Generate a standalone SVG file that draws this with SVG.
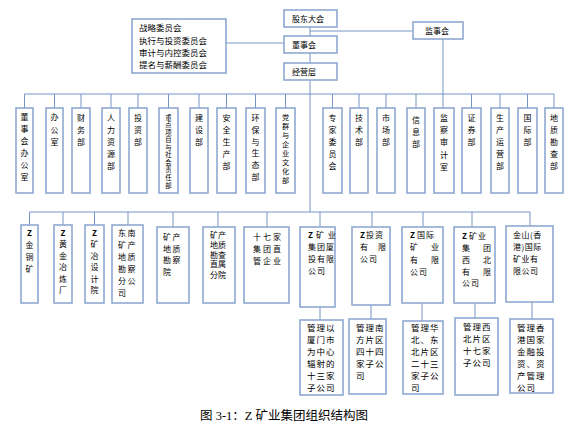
<svg xmlns="http://www.w3.org/2000/svg" width="583" height="433" viewBox="0 0 583 433">
<style>
.b{fill:#fff;stroke:#8FA9D2;stroke-width:1.6}
.c{stroke:#7594C4;stroke-width:1;fill:none}
text{font-family:"Noto Sans CJK SC","Liberation Sans",sans-serif;fill:#000}
.t{font-size:8px}
.v{font-size:8px;text-anchor:middle}
.s{font-size:6.4px;text-anchor:middle}
.p{font-size:7.2px;text-anchor:middle}
.h{font-size:8px}
.m{font-size:8.5px;letter-spacing:1px}
.cap{font-family:"Liberation Serif","Noto Sans CJK SC",serif;font-size:12.5px;fill:#000}
</style>
<rect width="583" height="433" fill="#fff"/>
<g id="connectors">
<path class="c" d="M310,27V36M310,53V63M310,80V212M310,31H413M226,43H284M443,39V108"/>
<path class="c" d="M24.5,94H554M24.5,94V108M54.5,94V108M81,94V108M111,94V108M138,94V108M168.5,94V108M199,94V108M226.5,94V108M255.5,94V108M285.5,94V108M332.5,94V108M359,94V108M386,94V108M416,94V108M471.5,94V108M500,94V108M527.5,94V108M554,94V108"/>
<path class="c" d="M29.5,212H530M29.5,212V225M63,212V225M94.5,212V225M128,212V225M173,212V227M218,212V227M267,212V227M320,212V227M372,212V227M423,212V227M472,212V227M530,212V226"/>
<path class="c" d="M320,307V320M371,305V319M422,303V321M475,303V318M532,302V319"/>
</g>
<g id="gudong"><rect class="b" x="284" y="10" width="53" height="17"/><text class="t" x="292" y="21.5">股东大会</text></g>
<g id="dongshihui"><rect class="b" x="284" y="36" width="53" height="17"/><text class="t" x="292" y="47.5">董事会</text></g>
<g id="jingying"><rect class="b" x="284" y="63" width="53" height="17"/><text class="t" x="292" y="74.5">经营层</text></g>
<g id="jianshihui"><rect class="b" x="413" y="22" width="50" height="17"/><text class="t" x="425" y="33.5">监事会</text></g>
<g id="weiyuanhui"><rect class="b" x="132" y="19" width="94" height="54"/><text class="m" x="139" y="30.5" style="letter-spacing:0">战略委员会</text><text class="m" x="139" y="43.5" style="letter-spacing:0">执行与投资委员会</text><text class="m" x="139" y="55.5" style="letter-spacing:0">审计与内控委员会</text><text class="m" x="139" y="67.5" style="letter-spacing:0">提名与薪酬委员会</text></g>

<g id="d1"><rect class="b" x="16" y="108" width="17" height="85"/><text class="v"><tspan x="24.5" y="120">董</tspan><tspan x="24.5" y="132">事</tspan><tspan x="24.5" y="144">会</tspan><tspan x="24.5" y="156">办</tspan><tspan x="24.5" y="168">公</tspan><tspan x="24.5" y="180">室</tspan></text></g>
<g id="d2"><rect class="b" x="46" y="108" width="17" height="85"/><text class="v"><tspan x="54.5" y="120">办</tspan><tspan x="54.5" y="132.5">公</tspan><tspan x="54.5" y="145">室</tspan></text></g>
<g id="d3"><rect class="b" x="72" y="108" width="18" height="85"/><text class="v"><tspan x="81" y="121">财</tspan><tspan x="81" y="133">务</tspan><tspan x="81" y="145">部</tspan></text></g>
<g id="d4"><rect class="b" x="102" y="108" width="18" height="85"/><text class="v"><tspan x="111" y="121">人</tspan><tspan x="111" y="133">力</tspan><tspan x="111" y="145">资</tspan><tspan x="111" y="157">源</tspan><tspan x="111" y="169">部</tspan></text></g>
<g id="d5"><rect class="b" x="129" y="108" width="18" height="85"/><text class="v"><tspan x="138" y="121">投</tspan><tspan x="138" y="133">资</tspan><tspan x="138" y="145">部</tspan></text></g>
<g id="d6"><rect class="b" x="159" y="108" width="19" height="85"/><text class="s"><tspan x="168.5" y="119.5">重</tspan><tspan x="168.5" y="127">点</tspan><tspan x="168.5" y="134.6">项</tspan><tspan x="168.5" y="142.2">目</tspan><tspan x="168.5" y="149.7">与</tspan><tspan x="168.5" y="157.3">社</tspan><tspan x="168.5" y="164.8">会</tspan><tspan x="168.5" y="172.4">责</tspan><tspan x="168.5" y="179.9">任</tspan><tspan x="168.5" y="187.5">部</tspan></text></g>
<g id="d7"><rect class="b" x="190" y="108" width="18" height="85"/><text class="v"><tspan x="199" y="121">建</tspan><tspan x="199" y="133">设</tspan><tspan x="199" y="145">部</tspan></text></g>
<g id="d8"><rect class="b" x="217" y="108" width="19" height="85"/><text class="v"><tspan x="226.5" y="121">安</tspan><tspan x="226.5" y="133">全</tspan><tspan x="226.5" y="145">生</tspan><tspan x="226.5" y="157">产</tspan><tspan x="226.5" y="169">部</tspan></text></g>
<g id="d9"><rect class="b" x="246" y="108" width="19" height="85"/><text class="v"><tspan x="255.5" y="121">环</tspan><tspan x="255.5" y="132.8">保</tspan><tspan x="255.5" y="144.6">与</tspan><tspan x="255.5" y="156.4">生</tspan><tspan x="255.5" y="168.2">态</tspan><tspan x="255.5" y="180">部</tspan></text></g>
<g id="d10"><rect class="b" x="276" y="108" width="19" height="85"/><text class="p"><tspan x="285.5" y="119.5">党</tspan><tspan x="285.5" y="128.6">群</tspan><tspan x="285.5" y="137.7">与</tspan><tspan x="285.5" y="146.8">企</tspan><tspan x="285.5" y="155.9">业</tspan><tspan x="285.5" y="165">文</tspan><tspan x="285.5" y="174.1">化</tspan><tspan x="285.5" y="183.2">部</tspan></text></g>
<g id="d11"><rect class="b" x="323" y="108" width="19" height="85"/><text class="v"><tspan x="332.5" y="121">专</tspan><tspan x="332.5" y="133">家</tspan><tspan x="332.5" y="145">委</tspan><tspan x="332.5" y="157">员</tspan><tspan x="332.5" y="169">会</tspan></text></g>
<g id="d12"><rect class="b" x="350" y="108" width="18" height="85"/><text class="v"><tspan x="359" y="121">技</tspan><tspan x="359" y="133">术</tspan><tspan x="359" y="145">部</tspan></text></g>
<g id="d13"><rect class="b" x="377" y="108" width="18" height="85"/><text class="v"><tspan x="386" y="121">市</tspan><tspan x="386" y="133">场</tspan><tspan x="386" y="145">部</tspan></text></g>
<g id="d14"><rect class="b" x="407" y="108" width="18" height="85"/><text class="v"><tspan x="416" y="123">信</tspan><tspan x="416" y="135">息</tspan><tspan x="416" y="147">部</tspan></text></g>
<g id="d15"><rect class="b" x="434" y="108" width="20" height="85"/><text class="v"><tspan x="444" y="121">监</tspan><tspan x="444" y="133.2">察</tspan><tspan x="444" y="145.4">审</tspan><tspan x="444" y="157.6">计</tspan><tspan x="444" y="169.8">室</tspan></text></g>
<g id="d16"><rect class="b" x="462" y="108" width="19" height="85"/><text class="v"><tspan x="471.5" y="121">证</tspan><tspan x="471.5" y="133">券</tspan><tspan x="471.5" y="145">部</tspan></text></g>
<g id="d17"><rect class="b" x="491" y="108" width="18" height="85"/><text class="v"><tspan x="500" y="121">生</tspan><tspan x="500" y="133">产</tspan><tspan x="500" y="145">运</tspan><tspan x="500" y="157">营</tspan><tspan x="500" y="169">部</tspan></text></g>
<g id="d18"><rect class="b" x="518" y="108" width="19" height="85"/><text class="v"><tspan x="527.5" y="121">国</tspan><tspan x="527.5" y="133">际</tspan><tspan x="527.5" y="145">部</tspan></text></g>
<g id="d19"><rect class="b" x="545" y="108" width="18" height="85"/><text class="v"><tspan x="554" y="121">地</tspan><tspan x="554" y="133">质</tspan><tspan x="554" y="145">勘</tspan><tspan x="554" y="157">查</tspan><tspan x="554" y="169">部</tspan></text></g>

<g id="c1"><rect class="b" x="21" y="225" width="17" height="78"/><text class="v"><tspan x="29.5" y="236" font-weight="bold">Z</tspan><tspan x="29.5" y="248">金</tspan><tspan x="29.5" y="260">铜</tspan><tspan x="29.5" y="272">矿</tspan></text></g>
<g id="c2"><rect class="b" x="54" y="225" width="18" height="78"/><text class="v"><tspan x="63" y="236" font-weight="bold">Z</tspan><tspan x="63" y="247.4">黄</tspan><tspan x="63" y="258.8">金</tspan><tspan x="63" y="270.2">冶</tspan><tspan x="63" y="281.6">炼</tspan><tspan x="63" y="293">厂</tspan></text></g>
<g id="c3"><rect class="b" x="85" y="225" width="19" height="78"/><text class="v"><tspan x="94.5" y="236" font-weight="bold">Z</tspan><tspan x="94.5" y="247.4">矿</tspan><tspan x="94.5" y="258.8">冶</tspan><tspan x="94.5" y="270.2">设</tspan><tspan x="94.5" y="281.6">计</tspan><tspan x="94.5" y="293">院</tspan></text></g>
<g id="c4"><rect class="b" x="112" y="225" width="31" height="78"/><text class="h" style="letter-spacing:1.5px"><tspan x="118" y="236">东南</tspan><tspan x="118" y="248">矿产</tspan><tspan x="118" y="260">地质</tspan><tspan x="118" y="272">勘察</tspan><tspan x="118" y="284">分公</tspan><tspan x="118" y="296">司</tspan></text></g>
<g id="c5"><rect class="b" x="157" y="227" width="32" height="76"/><text class="h" style="letter-spacing:1.5px"><tspan x="163" y="240">矿产</tspan><tspan x="163" y="251.5">地质</tspan><tspan x="163" y="263">勘察</tspan><tspan x="163" y="274.5">院</tspan></text></g>
<g id="c6"><rect class="b" x="203" y="227" width="32" height="76"/><text class="h"><tspan x="210" y="238">矿产</tspan><tspan x="210" y="247.8">地质</tspan><tspan x="210" y="257.6">勘查</tspan><tspan x="210" y="267.4">直属</tspan><tspan x="210" y="277.5">分院</tspan></text></g>
<g id="c7"><rect class="b" x="244" y="227" width="45" height="76"/><text class="h" style="letter-spacing:2px"><tspan x="253" y="240">十七家</tspan><tspan x="253" y="252">集团直</tspan><tspan x="253" y="263.5">管企业</tspan></text></g>
<g id="c8"><rect class="b" x="300" y="227" width="35" height="80"/><text class="h" style="letter-spacing:1px"><tspan x="308" y="238" font-weight="bold">Z</tspan><tspan x="316" y="238">矿 业</tspan><tspan x="308" y="250">集团厦</tspan><tspan x="308" y="262">投有限</tspan><tspan x="308" y="273.5">公司</tspan></text></g>
<g id="c9"><rect class="b" x="352" y="227" width="38" height="78"/><text class="h" style="letter-spacing:1px"><tspan x="360" y="238" font-weight="bold">Z</tspan><tspan x="366" y="238">投资</tspan><tspan x="360" y="250">有</tspan><tspan x="378" y="250">限</tspan><tspan x="360" y="262">公司</tspan></text></g>
<g id="c10"><rect class="b" x="402" y="227" width="41" height="76"/><text class="h" style="letter-spacing:1px"><tspan x="410" y="238" font-weight="bold">Z</tspan><tspan x="417" y="238">国际</tspan><tspan x="410" y="250">矿</tspan><tspan x="431" y="250">业</tspan><tspan x="410" y="263">有</tspan><tspan x="431" y="263">限</tspan><tspan x="410" y="274.5">公司</tspan></text></g>
<g id="c11"><rect class="b" x="454" y="227" width="41" height="76"/><text class="h" style="letter-spacing:1px"><tspan x="462" y="239" font-weight="bold">Z</tspan><tspan x="469" y="239">矿业</tspan><tspan x="462" y="251">集</tspan><tspan x="483" y="251">团</tspan><tspan x="462" y="263">西</tspan><tspan x="483" y="263">北</tspan><tspan x="462" y="274.5">有</tspan><tspan x="483" y="274.5">限</tspan><tspan x="462" y="286">公司</tspan></text></g>
<g id="c12"><rect class="b" x="506" y="226" width="47" height="76"/><text class="h" style="letter-spacing:0.5px"><tspan x="513" y="238">金山(香</tspan><tspan x="513" y="250">港)国际</tspan><tspan x="513" y="262">矿业有</tspan><tspan x="513" y="274">限公司</tspan></text></g>

<g id="e1"><rect class="b" x="300" y="320" width="43" height="75"/><text class="m"><tspan x="307" y="331">管理以</tspan><tspan x="307" y="343">厦门市</tspan><tspan x="307" y="355">为中心</tspan><tspan x="307" y="367">辐射的</tspan><tspan x="307" y="379">十三家</tspan><tspan x="307" y="391">子公司</tspan></text></g>
<g id="e2"><rect class="b" x="349" y="319" width="37" height="75"/><text class="m"><tspan x="356" y="331">管理南</tspan><tspan x="356" y="343">方片区</tspan><tspan x="356" y="355">四十四</tspan><tspan x="356" y="367">家子公</tspan><tspan x="356" y="379">司</tspan></text></g>
<g id="e3"><rect class="b" x="403" y="321" width="40" height="73"/><text class="m"><tspan x="411" y="331">管理华</tspan><tspan x="411" y="343">北、东</tspan><tspan x="411" y="355">北片区</tspan><tspan x="411" y="367">二十三</tspan><tspan x="411" y="379">家子公</tspan><tspan x="411" y="391">司</tspan></text></g>
<g id="e4"><rect class="b" x="455" y="318" width="43" height="77"/><text class="m"><tspan x="463" y="330">管理西</tspan><tspan x="463" y="342">北片区</tspan><tspan x="463" y="354">十七家</tspan><tspan x="463" y="366">子公司</tspan></text></g>
<g id="e5"><rect class="b" x="510" y="319" width="43" height="74"/><text class="m"><tspan x="517" y="331">管理香</tspan><tspan x="517" y="343">港国家</tspan><tspan x="517" y="355">金融投</tspan><tspan x="517" y="367">资、资</tspan><tspan x="517" y="379">产管理</tspan><tspan x="517" y="391">公司</tspan></text></g>

<text class="cap" x="200" y="419.5">图 3-1：Z 矿业集团组织结构图</text>
</svg>
